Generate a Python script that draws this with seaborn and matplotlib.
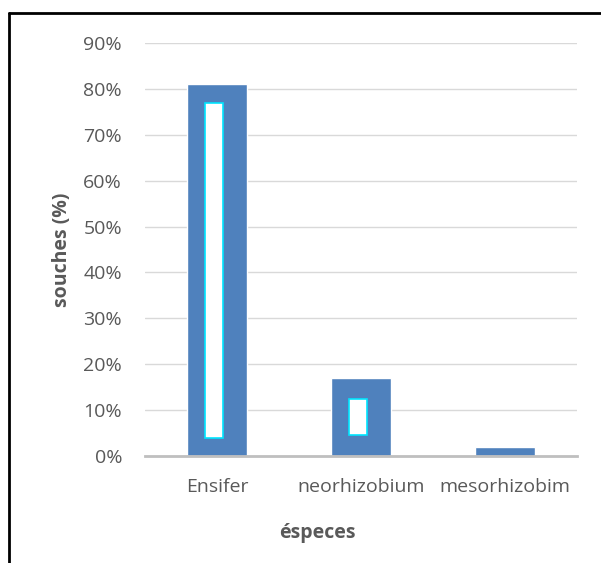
import matplotlib
matplotlib.use("Agg")
import matplotlib.pyplot as plt
import seaborn as sns
import pandas as pd
from matplotlib.ticker import PercentFormatter, MultipleLocator

# Data
especes = ['Ensifer', 'neorhizobium', 'mesorhizobim']
souches = [81, 17, 2]
# white streaks visible inside the bars (render artefact in the original)
streak_low = [4, 4.5, None]
streak_high = [77, 12.5, None]

df = pd.DataFrame({'especes': especes, 'souches': souches})

sns.set_theme(style='white')
plt.rcParams['font.family'] = ['Open Sans', 'DejaVu Sans']

fig = plt.figure(figsize=(6.01, 5.63), dpi=100)
ax = fig.add_axes([145 / 601, 1 - 456 / 563, 432 / 601, (456 - 43) / 563])

sns.barplot(data=df, x='especes', y='souches', color='#4f81bd', saturation=1,
            width=0.41, ax=ax)

# inner white streaks
for i, (lo, hi) in enumerate(zip(streak_low, streak_high)):
    if lo is None:
        continue
    ax.bar(i - 0.02, hi - lo, bottom=lo, width=0.12, color='white',
           edgecolor='#00e5ff', linewidth=1.2, zorder=3)

ax.set_ylim(0, 90)
ax.set_xlim(-0.5, 2.5)
ax.yaxis.set_major_locator(MultipleLocator(10))
ax.yaxis.set_major_formatter(PercentFormatter(decimals=0))
ax.grid(axis='y', color='#d9d9d9', linewidth=1)
ax.set_axisbelow(True)
for s in ['top', 'right', 'left']:
    ax.spines[s].set_visible(False)
ax.spines['bottom'].set_color('#bfbfbf')
ax.spines['bottom'].set_linewidth(2)
ax.tick_params(axis='both', length=0, colors='#595959', labelsize=14)
ax.tick_params(axis='y', pad=16.5)
ax.tick_params(axis='x', pad=16)

ax.set_ylabel('souches (%)', fontsize=14, fontweight='bold', color='#595959')
ax.set_xlabel('éspeces', fontsize=14, fontweight='bold', color='#595959')
ax.yaxis.set_label_coords(-0.17, 0.5)
ax.xaxis.set_label_coords(0.398, -0.162)

# chart frame (top and left border lines)
fig.add_artist(plt.Line2D([9 / 601, 9 / 601], [0, 1 - 13 / 563],
                          color='black', linewidth=2, transform=fig.transFigure))
fig.add_artist(plt.Line2D([9 / 601, 1], [1 - 13 / 563, 1 - 13 / 563],
                          color='black', linewidth=2, transform=fig.transFigure))

fig.savefig('out.png', dpi=100)
